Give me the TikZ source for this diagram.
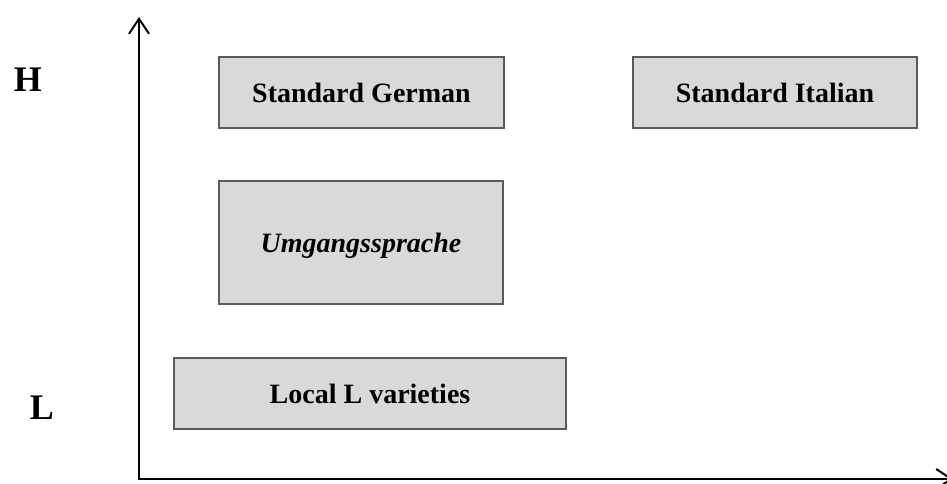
\documentclass[tikz,border=0pt]{standalone}
\usepackage{fontspec}
\setmainfont{Liberation Serif}
\usetikzlibrary{arrows.meta}
\definecolor{boxfill}{HTML}{D9D9D9}
\definecolor{boxline}{HTML}{5A5A5A}
\begin{document}
\begin{tikzpicture}[x=1pt,y=-1pt,
  varbox/.style={draw=boxline, line width=1.4pt, fill=boxfill, rectangle, inner sep=0pt,
    font=\fontsize{28}{32}\selectfont\bfseries, text height=19.5pt, text depth=0pt},
  levellabel/.style={inner sep=0pt, font=\fontsize{36}{40}\selectfont\bfseries, text height=24pt, text depth=0pt},
  axis/.style={line width=2.4pt, black, arrows={Straight Barb[length=15pt,width=20pt,line width=2pt]-Straight Barb[length=15pt,width=20pt,line width=2pt]}}]
\useasboundingbox (0,0) rectangle (947,484);
% axes
\coordinate (ytop) at (139,17);
\coordinate (origin) at (139,479);
\coordinate (xend) at (953,479);
\draw[axis] (ytop) -- (origin) -- (xend);
% level labels
\node[levellabel] (H) at (28,80) {H};
\node[levellabel] (L) at (42,407) {L};
% boxes
\node[varbox, minimum width=285pt, minimum height=71pt] (sg) at (361.5,92.5) {Standard German};
\node[varbox, minimum width=284pt, minimum height=71pt] (si) at (775,92.5) {Standard Italian};
\node[varbox, minimum width=284pt, minimum height=123pt, font=\fontsize{28}{32}\selectfont\bfseries\itshape] (ug) at (361,242.5) {Umgangssprache};
\node[varbox, minimum width=392pt, minimum height=71pt] (loc) at (370,393.5) {Local L varieties};
\end{tikzpicture}
\end{document}
